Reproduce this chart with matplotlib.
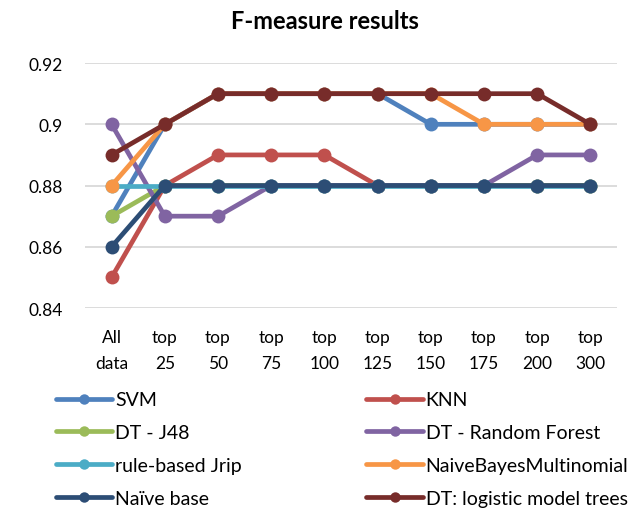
import matplotlib
matplotlib.use("Agg")
import matplotlib.pyplot as plt

categories = ["All\ndata", "top\n25", "top\n50", "top\n75", "top\n100", "top\n125",
              "top\n150", "top\n175", "top\n200", "top\n300"]
svm = [0.87, 0.90, 0.91, 0.91, 0.91, 0.91, 0.90, 0.90, 0.90, 0.90]
knn = [0.85, 0.88, 0.89, 0.89, 0.89, 0.88, 0.88, 0.88, 0.88, 0.88]
j48 = [0.87, 0.88, 0.88, 0.88, 0.88, 0.88, 0.88, 0.88, 0.88, 0.88]
rf = [0.90, 0.87, 0.87, 0.88, 0.88, 0.88, 0.88, 0.88, 0.89, 0.89]
jrip = [0.88, 0.88, 0.88, 0.88, 0.88, 0.88, 0.88, 0.88, 0.88, 0.88]
nbm = [0.88, 0.90, 0.91, 0.91, 0.91, 0.91, 0.91, 0.90, 0.90, 0.90]
naive = [0.86, 0.88, 0.88, 0.88, 0.88, 0.88, 0.88, 0.88, 0.88, 0.88]
lmt = [0.89, 0.90, 0.91, 0.91, 0.91, 0.91, 0.91, 0.91, 0.91, 0.90]

series = [
    ("SVM", svm, "#4F81BD"),
    ("KNN", knn, "#C0504D"),
    ("DT - J48", j48, "#9BBB59"),
    ("DT - Random Forest", rf, "#8064A2"),
    ("rule-based Jrip", jrip, "#4BACC6"),
    ("NaiveBayesMultinomial", nbm, "#F79646"),
    ("Naïve base", naive, "#2C4D75"),
    ("DT: logistic model trees", lmt, "#772C2A"),
]

plt.rcParams['font.family'] = ['Lato', 'DejaVu Sans']

fig = plt.figure(figsize=(6.33, 5.10), dpi=100)
ax = fig.add_axes([0.1343, 0.394, 0.8404, 0.4804])

x = list(range(len(categories)))
handles = {}
for name, vals, col in series:
    ln, = ax.plot(x, vals, color=col, lw=3.4, marker='o', markersize=10,
                  markeredgewidth=0, label=name, solid_capstyle='round')
    handles[name] = ln

ax.set_xlim(-0.5, len(categories) - 0.5)
ax.set_ylim(0.84, 0.92)
ax.set_yticks([0.84, 0.86, 0.88, 0.9, 0.92])
ax.set_yticklabels(["0.84", "0.86", "0.88", "0.9", "0.92"])
ax.set_xticks(x)
ax.set_xticklabels(categories, linespacing=1.75)
ax.tick_params(axis='both', length=0, labelsize=12.5, colors='#000000')
ax.tick_params(axis='x', pad=15)
ax.tick_params(axis='y', pad=16)
for s in ax.spines.values():
    s.set_visible(False)
ax.grid(axis='y', color='#D9D9D9', lw=1.3)
ax.set_axisbelow(True)

fig.text(0.513, 0.958, "F-measure results", ha='center', va='center',
         fontsize=17, fontweight='bold')

order = ["SVM", "DT - J48", "rule-based Jrip", "Naïve base",
         "KNN", "DT - Random Forest", "NaiveBayesMultinomial", "DT: logistic model trees"]
leg = fig.legend([handles[n] for n in order], order, ncol=2, loc='upper left',
                 bbox_to_anchor=(0.076, 0.246), frameon=False, fontsize=14,
                 handlelength=2.9, handletextpad=0.15, labelspacing=0.82,
                 columnspacing=6.4, borderaxespad=0, markerscale=0.75)

fig.savefig("out.png", dpi=100)
